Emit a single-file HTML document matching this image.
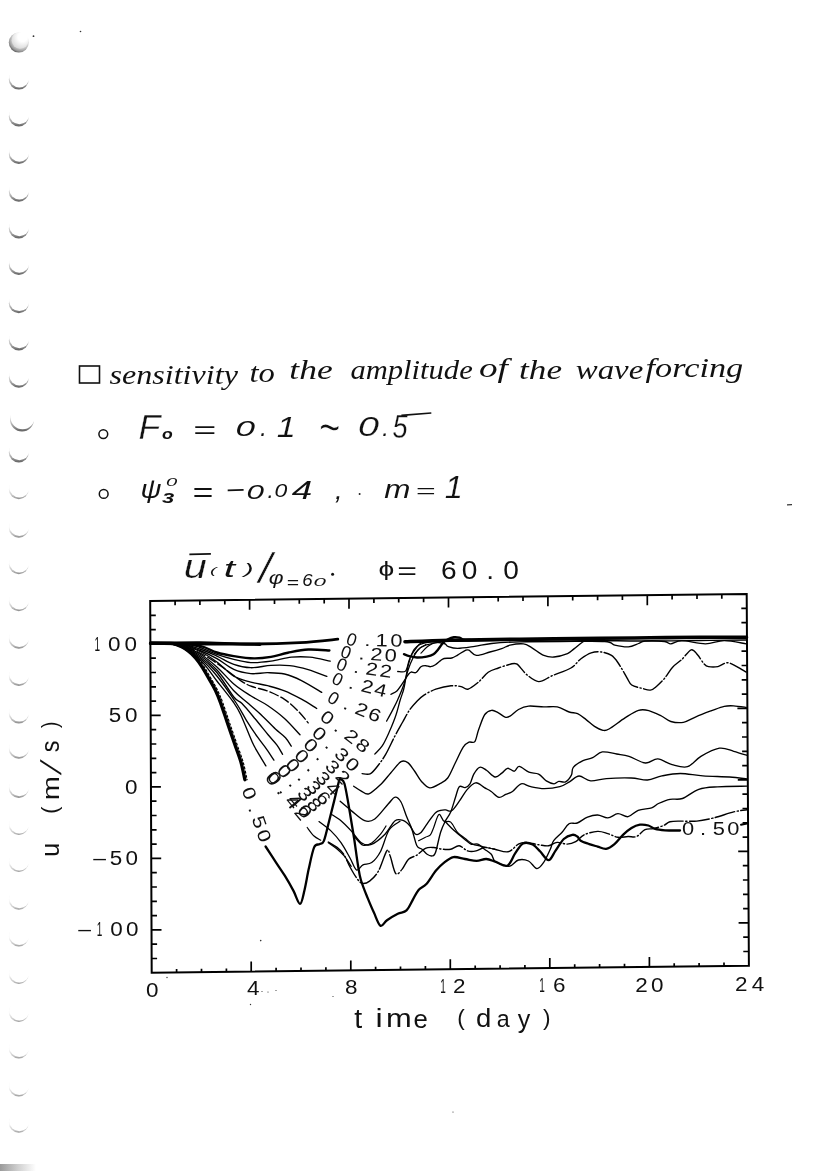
<!DOCTYPE html><html><head><meta charset="utf-8"><title>u(t) sensitivity to wave forcing amplitude</title><style>html,body{margin:0;padding:0;background:#fff;overflow:hidden}svg{display:block}</style></head><body><svg width="828" height="1171" viewBox="0 0 828 1171"><defs><linearGradient id="cres1" x1="0" y1="0" x2="0" y2="1"><stop offset="0.35" stop-color="#f4f4f4"/><stop offset="0.75" stop-color="#a4a4a4"/><stop offset="1" stop-color="#606060"/></linearGradient><linearGradient id="cres2" x1="0" y1="0" x2="0" y2="1"><stop offset="0.5" stop-color="#f8f8f8"/><stop offset="0.85" stop-color="#bbb"/><stop offset="1" stop-color="#8a8a8a"/></linearGradient><linearGradient id="cres3" x1="0" y1="0" x2="0" y2="1"><stop offset="0.55" stop-color="#fafafa"/><stop offset="0.88" stop-color="#c8c8c8"/><stop offset="1" stop-color="#9a9a9a"/></linearGradient><radialGradient id="ball" cx="0.62" cy="0.32" r="0.75"><stop offset="0.5" stop-color="#e8e8e8"/><stop offset="0.82" stop-color="#999"/><stop offset="1" stop-color="#444"/></radialGradient><radialGradient id="ballin" cx="0.65" cy="0.3" r="0.8"><stop offset="0.35" stop-color="#fff"/><stop offset="1" stop-color="#d4d4d4"/></radialGradient><linearGradient id="strip" x1="0" y1="0" x2="1" y2="0"><stop offset="0" stop-color="#9a9a9a"/><stop offset="0.5" stop-color="#d0d0d0"/><stop offset="1" stop-color="#fff"/></linearGradient></defs><rect width="828" height="1171" fill="#fff"/>
<g id="holes"><circle cx="18.8" cy="42.6" r="10.0" fill="url(#ball)"/><circle cx="20.1" cy="40.300000000000004" r="8.4" fill="url(#ballin)"/><circle cx="18.8" cy="79.6" r="10.0" fill="url(#cres1)"/><circle cx="19.400000000000002" cy="77.39999999999999" r="10.0" fill="#fff"/><circle cx="18.8" cy="116.5" r="10.0" fill="url(#cres1)"/><circle cx="19.400000000000002" cy="114.3" r="10.0" fill="#fff"/><circle cx="18.8" cy="154.0" r="10.0" fill="url(#cres1)"/><circle cx="19.400000000000002" cy="151.8" r="10.0" fill="#fff"/><circle cx="18.8" cy="191.7" r="10.0" fill="url(#cres1)"/><circle cx="19.400000000000002" cy="189.5" r="10.0" fill="#fff"/><circle cx="18.8" cy="228.5" r="10.0" fill="url(#cres1)"/><circle cx="19.400000000000002" cy="226.3" r="10.0" fill="#fff"/><circle cx="18.8" cy="265.0" r="10.0" fill="url(#cres1)"/><circle cx="19.400000000000002" cy="262.8" r="10.0" fill="#fff"/><circle cx="18.8" cy="303.3" r="10.0" fill="url(#cres1)"/><circle cx="19.400000000000002" cy="301.1" r="10.0" fill="#fff"/><circle cx="18.8" cy="340.4" r="10.0" fill="url(#cres1)"/><circle cx="19.400000000000002" cy="338.2" r="10.0" fill="#fff"/><circle cx="18.8" cy="377.7" r="10.0" fill="url(#cres1)"/><circle cx="19.400000000000002" cy="375.5" r="10.0" fill="#fff"/><circle cx="22.0" cy="419.4" r="12.0" fill="url(#cres1)"/><circle cx="22.6" cy="417.2" r="12.0" fill="#fff"/><circle cx="18.8" cy="452.5" r="10.0" fill="url(#cres1)"/><circle cx="19.400000000000002" cy="450.3" r="10.0" fill="#fff"/><circle cx="18.8" cy="489.3" r="10.0" fill="url(#cres2)"/><circle cx="19.400000000000002" cy="487.5" r="10.0" fill="#fff"/><circle cx="18.8" cy="527.8" r="10.0" fill="url(#cres2)"/><circle cx="19.400000000000002" cy="526.0" r="10.0" fill="#fff"/><circle cx="18.8" cy="564.2" r="10.0" fill="url(#cres2)"/><circle cx="19.400000000000002" cy="562.4000000000001" r="10.0" fill="#fff"/><circle cx="18.8" cy="601.3" r="10.0" fill="url(#cres2)"/><circle cx="19.400000000000002" cy="599.5" r="10.0" fill="#fff"/><circle cx="18.8" cy="638.7" r="10.0" fill="url(#cres2)"/><circle cx="19.400000000000002" cy="636.9000000000001" r="10.0" fill="#fff"/><circle cx="18.8" cy="676.0" r="10.0" fill="url(#cres2)"/><circle cx="19.400000000000002" cy="674.2" r="10.0" fill="#fff"/><circle cx="18.8" cy="713.4" r="10.0" fill="url(#cres2)"/><circle cx="19.400000000000002" cy="711.6" r="10.0" fill="#fff"/><circle cx="18.8" cy="748.8" r="10.0" fill="url(#cres2)"/><circle cx="19.400000000000002" cy="747.0" r="10.0" fill="#fff"/><circle cx="18.8" cy="788.0" r="10.0" fill="url(#cres2)"/><circle cx="19.400000000000002" cy="786.2" r="10.0" fill="#fff"/><circle cx="18.8" cy="825.0" r="10.0" fill="url(#cres3)"/><circle cx="19.400000000000002" cy="823.5" r="10.0" fill="#fff"/><circle cx="18.8" cy="862.0" r="10.0" fill="url(#cres3)"/><circle cx="19.400000000000002" cy="860.5" r="10.0" fill="#fff"/><circle cx="18.8" cy="899.7" r="10.0" fill="url(#cres3)"/><circle cx="19.400000000000002" cy="898.2" r="10.0" fill="#fff"/><circle cx="18.8" cy="936.5" r="10.0" fill="url(#cres3)"/><circle cx="19.400000000000002" cy="935.0" r="10.0" fill="#fff"/><circle cx="18.8" cy="974.0" r="10.0" fill="url(#cres3)"/><circle cx="19.400000000000002" cy="972.5" r="10.0" fill="#fff"/><circle cx="18.8" cy="1011.9" r="10.0" fill="url(#cres3)"/><circle cx="19.400000000000002" cy="1010.4" r="10.0" fill="#fff"/><circle cx="18.8" cy="1048.4" r="10.0" fill="url(#cres3)"/><circle cx="19.400000000000002" cy="1046.9" r="10.0" fill="#fff"/><circle cx="18.8" cy="1086.4" r="10.0" fill="url(#cres3)"/><circle cx="19.400000000000002" cy="1084.9" r="10.0" fill="#fff"/><circle cx="18.8" cy="1122.8" r="10.0" fill="url(#cres3)"/><circle cx="19.400000000000002" cy="1121.3" r="10.0" fill="#fff"/></g>
<rect x="0" y="1164" width="36" height="7" fill="url(#strip)"/>
<circle cx="260.7" cy="940.6" r="0.8" fill="#333"/>
<circle cx="262" cy="991.5" r="0.6" fill="#333"/>
<circle cx="268" cy="992" r="0.6" fill="#333"/>
<circle cx="276" cy="990.5" r="0.6" fill="#333"/>
<circle cx="250.5" cy="1004.5" r="0.7" fill="#333"/>
<circle cx="333" cy="996.5" r="0.6" fill="#333"/>
<circle cx="167" cy="977.5" r="0.7" fill="#333"/>
<circle cx="453" cy="1112" r="0.6" fill="#333"/>
<circle cx="80.5" cy="31.5" r="0.8" fill="#333"/>
<circle cx="33.5" cy="36.2" r="0.9" fill="#333"/>
<path d="M787,504.8 L792,504.6" stroke="#333" stroke-width="1.2"/>
<rect x="79.5" y="366" width="20" height="17" fill="none" stroke="#111" stroke-width="1.6"/>
<text x="90.29" y="384.00" font-size="26.50" font-family="Liberation Serif, serif" font-style="italic" fill="#111" transform="scale(1.2125,1)">sensitivity</text>
<text x="202.69" y="382.50" font-size="26.50" font-family="Liberation Serif, serif" font-style="italic" fill="#111" transform="scale(1.2311,1)">to</text>
<text x="215.97" y="379.00" font-size="26.50" font-family="Liberation Serif, serif" font-style="italic" fill="#111" transform="scale(1.3395,1)">the</text>
<text x="303.48" y="379.00" font-size="26.50" font-family="Liberation Serif, serif" font-style="italic" fill="#111" transform="scale(1.1546,1)">amplitude</text>
<text x="340.98" y="377.50" font-size="26.50" font-family="Liberation Serif, serif" font-style="italic" fill="#111" transform="scale(1.4047,1)">of</text>
<text x="391.35" y="378.90" font-size="26.50" font-family="Liberation Serif, serif" font-style="italic" fill="#111" transform="scale(1.3265,1)">the</text>
<text x="463.44" y="378.90" font-size="26.50" font-family="Liberation Serif, serif" font-style="italic" fill="#111" transform="scale(1.2422,1)">wave</text>
<text x="499.18" y="377.50" font-size="26.50" font-family="Liberation Serif, serif" font-style="italic" fill="#111" transform="scale(1.2932,1)">forcing</text>
<circle cx="103.3" cy="434.1" r="4.4" fill="none" stroke="#111" stroke-width="1.5"/>
<text x="135.38" y="439.20" font-size="34.93" font-family="Liberation Sans, sans-serif" font-style="italic" fill="#111" transform="scale(1.0225,1)" stroke="#fff" stroke-width="0.32">F</text>
<text x="127.34" y="439.06" font-size="13.82" font-family="Liberation Sans, sans-serif" font-style="italic" fill="#111" transform="scale(1.2719,1)" font-weight="bold">o</text>
<text x="114.39" y="438.06" font-size="23.38" font-family="Liberation Sans, sans-serif" font-style="italic" fill="#111" transform="scale(1.6841,1)">=</text>
<text x="143.86" y="436.49" font-size="21.41" font-family="Liberation Sans, sans-serif" font-style="italic" fill="#111" transform="scale(1.6372,1)">0</text>
<text x="285.16" y="436.50" font-size="25.71" font-family="Liberation Sans, sans-serif" font-style="italic" fill="#111" transform="scale(0.9130,1)">.</text>
<text x="238.45" y="436.70" font-size="29.42" font-family="Liberation Sans, sans-serif" font-style="italic" fill="#111" transform="scale(1.1610,1)" stroke="#fff" stroke-width="0.14">1</text>
<text x="519.90" y="446.70" font-size="60.00" font-family="Liberation Sans, sans-serif" font-style="italic" fill="#111" transform="scale(0.6128,1)" stroke="#fff" stroke-width="1.3">~</text>
<text x="266.78" y="435.92" font-size="28.03" font-family="Liberation Sans, sans-serif" font-style="italic" fill="#111" transform="scale(1.3424,1)" stroke="#fff" stroke-width="0.10">0</text>
<text x="403.27" y="436.20" font-size="24.76" font-family="Liberation Sans, sans-serif" font-style="italic" fill="#111" transform="scale(0.9482,1)">.</text>
<text x="486.33" y="437.66" font-size="33.57" font-family="Liberation Sans, sans-serif" font-style="italic" fill="#111" transform="scale(0.8073,1)" stroke="#fff" stroke-width="0.27">5</text>
<path d="M401.4,415.4 L431.3,413" stroke="#111" stroke-width="1.6" fill="none"/>
<circle cx="103.7" cy="493.9" r="4.4" fill="none" stroke="#111" stroke-width="1.5"/>
<text x="121.96" y="498.03" font-size="25.09" font-family="Liberation Sans, sans-serif" font-style="italic" fill="#111" transform="scale(1.1529,1)">ψ</text>
<text x="84.45" y="485.90" font-size="10.28" font-family="Liberation Sans, sans-serif" font-style="italic" fill="#111" transform="scale(1.9645,1)">0</text>
<text x="105.17" y="503.16" font-size="14.23" font-family="Liberation Sans, sans-serif" font-style="italic" fill="#111" transform="scale(1.5398,1)" font-weight="bold">3</text>
<text x="143.24" y="501.92" font-size="26.77" font-family="Liberation Sans, sans-serif" font-style="italic" fill="#111" transform="scale(1.3402,1)" stroke="#fff" stroke-width="0.06">=</text>
<path d="M227.7,490.3 L243.6,489.8" stroke="#111" stroke-width="1.7" fill="none"/>
<text x="159.94" y="498.80" font-size="20.42" font-family="Liberation Sans, sans-serif" font-style="italic" fill="#111" transform="scale(1.5417,1)">0</text>
<text x="292.97" y="498.40" font-size="24.76" font-family="Liberation Sans, sans-serif" font-style="italic" fill="#111" transform="scale(0.9130,1)">.</text>
<text x="218.78" y="497.32" font-size="18.31" font-family="Liberation Sans, sans-serif" font-style="italic" fill="#111" transform="scale(1.2545,1)">0</text>
<text x="199.46" y="499.00" font-size="25.22" font-family="Liberation Sans, sans-serif" font-style="italic" fill="#111" transform="scale(1.4630,1)">4</text>
<text x="309.83" y="498.64" font-size="25.11" font-family="Liberation Sans, sans-serif" font-style="italic" fill="#111" transform="scale(1.0811,1)">,</text>
<circle cx="359.6" cy="494" r="1" fill="#222"/>
<text x="305.64" y="498.00" font-size="25.00" font-family="Liberation Sans, sans-serif" font-style="italic" fill="#111" transform="scale(1.2571,1)">m</text>
<text x="219.24" y="497.14" font-size="17.85" font-family="Liberation Sans, sans-serif" font-style="italic" fill="#111" transform="scale(1.8948,1)">=</text>
<text x="419.40" y="498.00" font-size="30.72" font-family="Liberation Sans, sans-serif" font-style="italic" fill="#111" transform="scale(1.0605,1)" stroke="#fff" stroke-width="0.18">1</text>
<path d="M189.4,554.4 L210.9,553.9" stroke="#111" stroke-width="1.7" fill="none"/>
<text x="143.70" y="577.58" font-size="32.41" font-family="Liberation Sans, sans-serif" font-style="italic" fill="#111" transform="scale(1.2779,1)" stroke="#fff" stroke-width="0.24">u</text>
<text x="94.65" y="573.96" font-size="8.77" font-family="Liberation Sans, sans-serif" font-style="italic" fill="#111" transform="scale(2.2189,1)">(</text>
<text x="136.42" y="576.55" font-size="24.85" font-family="Liberation Sans, sans-serif" font-style="italic" fill="#111" transform="scale(1.6396,1)">t</text>
<text x="124.86" y="573.81" font-size="14.22" font-family="Liberation Sans, sans-serif" font-style="italic" fill="#111" transform="scale(1.9570,1)">)</text>
<text x="241.03" y="582.57" font-size="43.27" font-family="Liberation Sans, sans-serif" font-style="italic" fill="#111" transform="scale(1.0731,1)" stroke="#fff" stroke-width="0.58">/</text>
<text x="209.59" y="584.38" font-size="17.73" font-family="Liberation Sans, sans-serif" font-style="italic" fill="#111" transform="scale(1.2821,1)">φ</text>
<text x="213.87" y="587.59" font-size="15.69" font-family="Liberation Sans, sans-serif" font-style="italic" fill="#111" transform="scale(1.3402,1)">=</text>
<text x="258.65" y="585.94" font-size="15.92" font-family="Liberation Sans, sans-serif" font-style="italic" fill="#111" transform="scale(1.1687,1)">6</text>
<text x="161.86" y="585.98" font-size="11.55" font-family="Liberation Sans, sans-serif" font-style="italic" fill="#111" transform="scale(1.9375,1)">0</text>
<circle cx="332.6" cy="574.2" r="1.5" fill="#111"/>
<text x="264.89" y="575.87" font-size="19.68" font-family="Liberation Sans, sans-serif" font-style="normal" fill="#111" transform="scale(1.4292,1)">ϕ</text>
<text x="278.38" y="579.01" font-size="23.69" font-family="Liberation Sans, sans-serif" font-style="normal" fill="#111" transform="scale(1.4272,1)">=</text>
<text x="408.42" y="579.00" font-size="26" font-family="Liberation Sans, sans-serif" fill="#111" transform="scale(1.08,1)">6</text>
<text x="427.48" y="579.00" font-size="26" font-family="Liberation Sans, sans-serif" fill="#111" transform="scale(1.08,1)">0</text>
<text x="450.25" y="579.00" font-size="26" font-family="Liberation Sans, sans-serif" fill="#111" transform="scale(1.08,1)">.</text>
<text x="465.90" y="579.00" font-size="26" font-family="Liberation Sans, sans-serif" fill="#111" transform="scale(1.08,1)">0</text>
<text x="196.77" y="650.80" font-size="20.8" font-family="Liberation Sans, sans-serif" fill="#111" transform="scale(0.48,1)">1</text>
<text x="100.09" y="650.80" font-size="20.8" font-family="Liberation Sans, sans-serif" fill="#111" transform="scale(1.08,1)">0</text>
<text x="115.28" y="650.80" font-size="20.8" font-family="Liberation Sans, sans-serif" fill="#111" transform="scale(1.08,1)">0</text>
<text x="100.65" y="722.10" font-size="20.8" font-family="Liberation Sans, sans-serif" fill="#111" transform="scale(1.08,1)">5</text>
<text x="115.65" y="722.10" font-size="20.8" font-family="Liberation Sans, sans-serif" fill="#111" transform="scale(1.08,1)">0</text>
<text x="115.65" y="793.70" font-size="20.8" font-family="Liberation Sans, sans-serif" fill="#111" transform="scale(1.08,1)">0</text>
<text x="84.73" y="865.30" font-size="20.8" font-family="Liberation Sans, sans-serif" fill="#111" transform="scale(1.1,1)">–</text>
<text x="101.58" y="865.30" font-size="20.8" font-family="Liberation Sans, sans-serif" fill="#111" transform="scale(1.08,1)">5</text>
<text x="116.30" y="865.30" font-size="20.8" font-family="Liberation Sans, sans-serif" fill="#111" transform="scale(1.08,1)">0</text>
<text x="71.09" y="936.10" font-size="20.8" font-family="Liberation Sans, sans-serif" fill="#111" transform="scale(1.1,1)">–</text>
<text x="201.36" y="936.10" font-size="20.8" font-family="Liberation Sans, sans-serif" fill="#111" transform="scale(0.48,1)">1</text>
<text x="102.04" y="936.10" font-size="20.8" font-family="Liberation Sans, sans-serif" fill="#111" transform="scale(1.08,1)">0</text>
<text x="116.76" y="936.10" font-size="20.8" font-family="Liberation Sans, sans-serif" fill="#111" transform="scale(1.08,1)">0</text>
<text x="135.09" y="997.50" font-size="20.8" font-family="Liberation Sans, sans-serif" fill="#111" transform="scale(1.08,1)">0</text>
<text x="228.66" y="995.50" font-size="20.8" font-family="Liberation Sans, sans-serif" fill="#111" transform="scale(1.08,1)">4</text>
<text x="319.43" y="994.20" font-size="20.8" font-family="Liberation Sans, sans-serif" fill="#111" transform="scale(1.08,1)">8</text>
<text x="916.98" y="993.00" font-size="20.8" font-family="Liberation Sans, sans-serif" fill="#111" transform="scale(0.48,1)">1</text>
<text x="419.52" y="993.00" font-size="20.8" font-family="Liberation Sans, sans-serif" fill="#111" transform="scale(1.08,1)">2</text>
<text x="1123.44" y="992.20" font-size="20.8" font-family="Liberation Sans, sans-serif" fill="#111" transform="scale(0.48,1)">1</text>
<text x="512.11" y="992.20" font-size="20.8" font-family="Liberation Sans, sans-serif" fill="#111" transform="scale(1.08,1)">6</text>
<text x="588.13" y="991.60" font-size="20.8" font-family="Liberation Sans, sans-serif" fill="#111" transform="scale(1.08,1)">2</text>
<text x="602.87" y="991.60" font-size="20.8" font-family="Liberation Sans, sans-serif" fill="#111" transform="scale(1.08,1)">0</text>
<text x="680.63" y="990.60" font-size="20.8" font-family="Liberation Sans, sans-serif" fill="#111" transform="scale(1.08,1)">2</text>
<text x="696.07" y="990.60" font-size="20.8" font-family="Liberation Sans, sans-serif" fill="#111" transform="scale(1.08,1)">4</text>
<text x="346.98" y="1027.92" font-size="28.03" font-family="Liberation Sans, sans-serif" font-style="normal" fill="#111" transform="scale(1.0213,1)">t</text>
<text x="305.32" y="1027.50" font-size="26.21" font-family="Liberation Sans, sans-serif" font-style="normal" fill="#111" transform="scale(1.2295,1)">i</text>
<text x="312.07" y="1027.50" font-size="25.00" font-family="Liberation Sans, sans-serif" font-style="normal" fill="#111" transform="scale(1.2369,1)">m</text>
<text x="408.91" y="1027.65" font-size="25.45" font-family="Liberation Sans, sans-serif" font-style="normal" fill="#111" transform="scale(1.0114,1)">e</text>
<text x="460.05" y="1025.12" font-size="22.78" font-family="Liberation Sans, sans-serif" font-style="normal" fill="#111" transform="scale(0.9939,1)">(</text>
<text x="432.53" y="1026.75" font-size="25.03" font-family="Liberation Sans, sans-serif" font-style="normal" fill="#111" transform="scale(1.1007,1)">d</text>
<text x="496.27" y="1026.77" font-size="23.27" font-family="Liberation Sans, sans-serif" font-style="normal" fill="#111" transform="scale(1.0012,1)">a</text>
<text x="525.21" y="1027.86" font-size="25.41" font-family="Liberation Sans, sans-serif" font-style="normal" fill="#111" transform="scale(0.9860,1)">y</text>
<text x="546.23" y="1025.12" font-size="22.78" font-family="Liberation Sans, sans-serif" font-style="normal" fill="#111" transform="scale(0.9939,1)">)</text>
<g transform="translate(60.3,0) rotate(-90)"><text x="-835.44" y="-1.15" font-size="25.00" font-family="Liberation Sans, sans-serif" fill="#111" transform="scale(1.0259,1)">u</text><text x="-857.74" y="-3.76" font-size="22.67" font-family="Liberation Sans, sans-serif" fill="#111" transform="scale(0.9486,1)">(</text><text x="-652.30" y="-1.60" font-size="23.70" font-family="Liberation Sans, sans-serif" fill="#111" transform="scale(1.2267,1)">m</text><text x="-775.30" y="0.71" font-size="28.84" font-family="Liberation Sans, sans-serif" fill="#111" transform="translate(0,0.71) skewX(-20.73) translate(0,-0.71)">/</text><text x="-829.94" y="-1.16" font-size="25.87" font-family="Liberation Sans, sans-serif" fill="#111" transform="scale(0.9063,1)">s</text><text x="-857.57" y="-3.76" font-size="22.67" font-family="Liberation Sans, sans-serif" fill="#111" transform="scale(0.8488,1)">)</text></g>
<path d="M150.2,601.0 L746.7,594.0 L748.9,965.8 L151.7,972.8 Z" fill="none" stroke="#000" stroke-width="2"/>
<path d="M175.1,600.7 l0,4.5 M176.6,972.5 l0,-3.5 M199.9,600.4 l0,4.5 M201.5,972.2 l0,-3.5 M224.8,600.1 l0,4.5 M226.4,971.9 l0,-3.5 M249.6,599.8 l0,10 M251.2,971.6 l0,-10 M274.5,599.5 l0,4.5 M276.1,971.3 l0,-3.5 M299.3,599.2 l0,4.5 M301.0,971.0 l0,-3.5 M324.2,599.0 l0,4.5 M325.9,970.8 l0,-3.5 M349.0,598.7 l0,10 M350.8,970.5 l0,-10 M373.9,598.4 l0,4.5 M375.6,970.2 l0,-3.5 M398.7,598.1 l0,4.5 M400.5,969.9 l0,-3.5 M423.6,597.8 l0,4.5 M425.4,969.6 l0,-3.5 M448.5,597.5 l0,10 M450.3,969.3 l0,-10 M473.3,597.2 l0,4.5 M475.2,969.0 l0,-3.5 M498.2,596.9 l0,4.5 M500.1,968.7 l0,-3.5 M523.0,596.6 l0,4.5 M524.9,968.4 l0,-3.5 M547.9,596.3 l0,10 M549.8,968.1 l0,-10 M572.7,596.0 l0,4.5 M574.7,967.8 l0,-3.5 M597.6,595.8 l0,4.5 M599.6,967.5 l0,-3.5 M622.4,595.5 l0,4.5 M624.5,967.3 l0,-3.5 M647.3,595.2 l0,10 M649.4,967.0 l0,-10 M672.1,594.9 l0,4.5 M674.2,966.7 l0,-3.5 M697.0,594.6 l0,4.5 M699.1,966.4 l0,-3.5 M721.8,594.3 l0,4.5 M724.0,966.1 l0,-3.5 M151.6,958.5 l5.5,0 M748.8,951.5 l-5.5,0 M151.6,944.2 l5.5,0 M748.7,937.2 l-5.5,0 M151.5,929.9 l10,0 M748.6,922.9 l-10,0 M151.5,915.6 l5.5,0 M748.6,908.6 l-5.5,0 M151.4,901.3 l5.5,0 M748.5,894.3 l-5.5,0 M151.4,887.0 l5.5,0 M748.4,880.0 l-5.5,0 M151.3,872.7 l5.5,0 M748.3,865.7 l-5.5,0 M151.2,858.4 l10,0 M748.2,851.4 l-10,0 M151.2,844.1 l5.5,0 M748.1,837.1 l-5.5,0 M151.1,829.8 l5.5,0 M748.1,822.8 l-5.5,0 M151.1,815.5 l5.5,0 M748.0,808.5 l-5.5,0 M151.0,801.2 l5.5,0 M747.9,794.2 l-5.5,0 M150.9,786.9 l10,0 M747.8,779.9 l-10,0 M150.9,772.6 l5.5,0 M747.7,765.6 l-5.5,0 M150.8,758.3 l5.5,0 M747.6,751.3 l-5.5,0 M150.8,744.0 l5.5,0 M747.5,737.0 l-5.5,0 M150.7,729.7 l5.5,0 M747.5,722.7 l-5.5,0 M150.7,715.4 l10,0 M747.4,708.4 l-10,0 M150.6,701.1 l5.5,0 M747.3,694.1 l-5.5,0 M150.5,686.8 l5.5,0 M747.2,679.8 l-5.5,0 M150.5,672.5 l5.5,0 M747.1,665.5 l-5.5,0 M150.4,658.2 l5.5,0 M747.0,651.2 l-5.5,0 M150.4,643.9 l10,0 M747.0,636.9 l-10,0 M150.3,629.6 l5.5,0 M746.9,622.6 l-5.5,0 M150.3,615.3 l5.5,0 M746.8,608.3 l-5.5,0" stroke="#000" stroke-width="1.7" fill="none"/>
<path d="M150.5,643.2 C158.8,643.1 183.3,642.5 200.0,642.6 C216.7,642.7 234.0,644.0 250.7,644.0 C267.4,644.0 285.5,643.4 300.0,642.6 C314.5,641.8 331.5,639.8 337.8,639.2" fill="none" stroke="#000" stroke-width="2.8" stroke-linecap="round" stroke-linejoin="round"/>
<path d="M150.5,643.2 C154.6,643.2 166.8,643.0 175.0,643.4 C183.2,643.8 193.0,644.4 200.0,645.9 C207.0,647.4 211.3,650.8 216.9,652.5 C222.5,654.2 227.6,655.1 233.8,656.1 C240.0,657.1 247.9,658.3 254.1,658.4 C260.3,658.5 265.4,657.8 271.0,656.9 C276.6,656.0 281.7,653.9 287.9,652.7 C294.1,651.5 301.3,649.9 308.2,649.5 C315.1,649.1 325.9,650.3 329.4,650.5" fill="none" stroke="#000" stroke-width="2.4" stroke-linecap="round" stroke-linejoin="round"/>
<path d="M150.5,643.2 C156.2,643.4 176.8,643.5 185.0,644.2 C193.2,644.9 194.7,645.8 200.0,647.5 C205.3,649.2 211.3,652.4 216.9,654.4 C222.5,656.4 228.2,658.0 233.8,659.4 C239.4,660.8 244.5,662.3 250.7,662.6 C256.9,662.9 264.2,662.0 271.0,661.1 C277.8,660.2 284.8,657.9 291.3,657.2 C297.8,656.6 303.4,656.6 309.9,657.2 C316.4,657.9 326.8,660.5 330.2,661.1" fill="none" stroke="#000" stroke-width="1.35" stroke-linecap="round" stroke-linejoin="round"/>
<path d="M150.5,643.2 C155.9,643.4 174.8,643.5 183.0,644.5 C191.2,645.5 194.3,647.1 200.0,649.0 C205.7,650.9 211.3,653.6 216.9,656.1 C222.5,658.6 228.2,662.4 233.8,664.3 C239.4,666.2 244.5,667.5 250.7,667.7 C256.9,667.9 264.5,665.8 271.0,665.4 C277.5,665.0 283.4,664.9 289.6,665.6 C295.8,666.3 302.0,667.8 308.2,669.6 C314.4,671.4 323.7,675.3 326.8,676.4" fill="none" stroke="#000" stroke-width="1.35" stroke-linecap="round" stroke-linejoin="round"/>
<path d="M150.5,643.2 C155.8,643.5 173.8,643.5 182.0,644.7 C190.2,645.9 194.2,648.2 200.0,650.5 C205.8,652.8 211.3,655.5 216.9,658.6 C222.5,661.8 228.2,666.9 233.8,669.4 C239.4,671.9 245.1,673.0 250.7,673.6 C256.3,674.2 262.0,672.6 267.6,672.7 C273.2,672.8 278.9,672.7 284.5,674.0 C290.1,675.3 295.3,677.5 301.5,680.6 C307.7,683.7 318.3,690.4 321.7,692.4" fill="none" stroke="#000" stroke-width="1.35" stroke-linecap="round" stroke-linejoin="round"/>
<path d="M150.5,643.2 C155.6,643.5 172.8,643.4 181.0,644.8 C189.2,646.2 194.0,648.6 200.0,651.5 C206.0,654.4 211.3,657.9 216.9,662.0 C222.5,666.1 228.2,672.9 233.8,676.2 C239.4,679.6 245.1,680.5 250.7,682.1 C256.3,683.7 262.0,684.2 267.6,685.7 C273.2,687.2 278.9,688.6 284.5,690.9 C290.1,693.1 296.1,696.3 301.5,699.2 C306.9,702.1 314.2,707.0 316.7,708.5" fill="none" stroke="#000" stroke-width="1.35" stroke-linecap="round" stroke-linejoin="round"/>
<path d="M150.5,643.2 C155.4,643.5 171.8,643.4 180.0,645.0 C188.2,646.6 193.3,649.6 200.0,653.0 C206.7,656.4 213.5,661.0 220.3,665.6 C227.1,670.2 235.3,677.1 240.6,680.6 C245.9,684.1 247.5,684.8 252.0,686.5 C256.5,688.2 262.2,688.9 267.6,691.0 C273.0,693.1 279.4,696.1 284.5,699.4 C289.6,702.7 294.2,707.1 298.1,711.0 C302.1,714.9 306.5,720.9 308.2,722.9" fill="none" stroke="#000" stroke-width="1.35" stroke-linecap="round" stroke-linejoin="round" stroke-dasharray="9,3"/>
<path d="M150.5,643.2 C155.2,643.5 170.8,643.2 179.0,645.0 C187.2,646.8 193.7,650.3 200.0,654.0 C206.3,657.7 211.3,662.0 216.9,667.0 C222.5,672.0 228.2,679.2 233.8,684.0 C239.4,688.8 245.1,692.2 250.7,695.8 C256.3,699.4 262.0,701.7 267.6,705.5 C273.2,709.3 279.1,713.6 284.5,718.5 C289.9,723.4 297.4,732.1 300.0,734.8" fill="none" stroke="#000" stroke-width="1.35" stroke-linecap="round" stroke-linejoin="round"/>
<path d="M150.5,643.2 C155.1,643.5 169.8,643.0 178.0,645.0 C186.2,647.0 193.5,651.3 200.0,655.5 C206.5,659.7 211.3,664.1 216.9,670.0 C222.5,675.9 228.7,685.2 233.8,690.7 C239.0,696.2 243.1,698.8 247.8,703.0 C252.6,707.2 257.7,711.6 262.3,715.9 C266.9,720.2 271.5,725.4 275.4,729.0 C279.3,732.6 282.9,734.9 285.5,737.7 C288.1,740.6 290.3,744.7 291.3,746.1" fill="none" stroke="#000" stroke-width="1.35" stroke-linecap="round" stroke-linejoin="round"/>
<path d="M150.5,643.2 C154.9,643.5 168.8,642.7 177.0,645.0 C185.2,647.3 193.3,652.4 200.0,657.0 C206.7,661.6 211.3,665.8 216.9,672.5 C222.5,679.2 229.6,691.8 233.8,697.0 C238.0,702.2 238.4,699.9 242.0,703.5 C245.6,707.1 250.8,713.6 255.1,718.8 C259.4,724.0 264.5,730.4 268.1,734.8 C271.7,739.1 274.4,741.6 276.8,744.9 C279.2,748.1 281.6,752.7 282.6,754.3" fill="none" stroke="#000" stroke-width="1.35" stroke-linecap="round" stroke-linejoin="round"/>
<path d="M150.5,643.2 C154.8,643.5 167.8,642.5 176.0,645.0 C184.2,647.5 193.2,653.3 200.0,658.5 C206.8,663.7 210.9,668.6 216.9,676.0 C222.9,683.4 231.3,695.6 236.2,703.0 C241.1,710.4 242.8,714.5 246.4,720.3 C250.0,726.1 254.6,732.9 258.0,737.7 C261.4,742.5 264.1,745.6 266.7,749.3 C269.3,753.0 272.7,758.3 273.9,760.1" fill="none" stroke="#000" stroke-width="1.35" stroke-linecap="round" stroke-linejoin="round"/>
<path d="M150.5,643.2 C154.6,643.5 166.8,642.2 175.0,645.0 C183.2,647.8 193.0,654.0 200.0,660.0 C207.0,666.0 211.3,674.0 216.9,681.0 C222.5,688.0 229.4,696.4 233.3,702.0 C237.2,707.6 237.4,707.8 240.6,714.5 C243.8,721.2 249.1,735.2 252.2,742.0 C255.3,748.8 257.1,751.1 259.4,755.1 C261.7,759.1 264.8,764.1 265.9,765.9" fill="none" stroke="#000" stroke-width="1.35" stroke-linecap="round" stroke-linejoin="round"/>
<path d="M150.5,643.2 C154.9,643.3 170.8,642.8 177.0,644.0 C183.2,645.2 184.4,648.2 187.5,650.5 C190.6,652.8 193.0,655.1 195.5,658.0 C198.0,660.9 200.2,664.0 202.5,667.6 C204.8,671.2 207.3,675.9 209.5,679.7 C211.7,683.5 213.7,686.8 215.5,690.6 C217.3,694.4 218.6,697.4 220.5,702.6 C222.4,707.8 224.7,714.9 227.0,721.7 C229.3,728.5 232.2,736.7 234.5,743.5 C236.8,750.3 239.3,756.3 241.0,762.3 C242.7,768.3 244.2,776.8 244.9,779.7" fill="none" stroke="#000" stroke-width="3.3" stroke-linecap="round" stroke-linejoin="round"/>
<path d="M189.7,650.5 C191.0,651.8 195.2,655.1 197.7,658.0 C200.2,660.9 202.4,664.0 204.7,667.6 C207.0,671.2 209.5,675.9 211.7,679.7 C213.9,683.5 215.9,686.8 217.7,690.6 C219.5,694.4 220.8,697.4 222.7,702.6 C224.6,707.8 226.9,714.9 229.2,721.7 C231.5,728.5 234.4,736.7 236.7,743.5 C239.0,750.3 241.5,756.3 243.2,762.3 C244.9,768.3 246.4,776.8 247.1,779.7" fill="none" stroke="#000" stroke-width="1.2" stroke-linecap="round" stroke-linejoin="round" stroke-dasharray="2,2.2"/>
<path d="M150.5,643.2 C156.2,643.3 171.8,643.5 185.0,643.6 C198.2,643.7 217.5,643.9 230.0,644.0 C242.5,644.1 255.0,644.2 260.0,644.3" fill="none" stroke="#000" stroke-width="3.2" stroke-linecap="round" stroke-linejoin="round"/>
<path d="M405.0,641.8 C412.5,641.5 430.8,640.6 450.0,640.2 C469.2,639.8 495.0,639.5 520.0,639.2 C545.0,638.9 578.3,638.5 600.0,638.3 C621.7,638.1 633.3,638.0 650.0,637.8 C666.7,637.6 683.9,637.4 700.0,637.3 C716.1,637.2 738.8,637.2 746.5,637.2" fill="none" stroke="#000" stroke-width="3.6" stroke-linecap="round" stroke-linejoin="round"/>
<path d="M440.0,641.5 C450.0,641.3 480.0,640.6 500.0,640.5 C520.0,640.4 543.3,641.0 560.0,641.0 C576.7,641.0 586.7,640.5 600.0,640.5 C613.3,640.5 623.3,641.0 640.0,641.0 C656.7,641.0 682.3,640.7 700.0,640.5 C717.7,640.3 738.3,640.1 746.0,640.0" fill="none" stroke="#000" stroke-width="1.3" stroke-linecap="round" stroke-linejoin="round"/>
<path d="M404.0,654.2 C404.9,654.5 407.1,655.6 409.3,656.1 C411.5,656.6 414.1,657.4 417.0,657.5 C419.9,657.6 423.9,657.1 426.7,656.6 C429.4,656.1 431.6,655.4 433.5,654.2 C435.4,653.0 436.7,651.2 438.3,649.3 C439.9,647.4 441.5,644.3 443.1,642.6 C444.7,640.9 446.2,640.1 448.0,639.2 C449.8,638.3 451.9,637.5 453.8,637.2 C455.7,637.0 458.0,637.3 459.6,637.7 C461.2,638.1 461.7,639.3 463.4,639.7 C465.1,640.1 468.9,640.0 470.0,640.0" fill="none" stroke="#000" stroke-width="2.4" stroke-linecap="round" stroke-linejoin="round"/>
<path d="M411.3,655.1 C412.6,653.3 416.8,646.8 419.0,644.5 C421.2,642.2 423.8,642.1 424.8,641.6" fill="none" stroke="#000" stroke-width="1.1" stroke-linecap="round" stroke-linejoin="round"/>
<path d="M414.2,654.2 C415.2,653.2 418.0,649.6 420.0,648.0 C422.0,646.4 425.0,645.1 426.0,644.5" fill="none" stroke="#000" stroke-width="1.1" stroke-linecap="round" stroke-linejoin="round"/>
<path d="M420.9,653.2 C421.9,652.2 425.1,648.6 427.0,647.0 C428.9,645.4 431.6,644.1 432.5,643.5" fill="none" stroke="#000" stroke-width="1.1" stroke-linecap="round" stroke-linejoin="round"/>
<path d="M397.7,671.5 C399.0,671.4 403.6,673.0 405.5,671.1 C407.4,669.2 407.9,663.6 409.3,660.0 C410.8,656.4 412.4,651.9 414.2,649.3 C416.0,646.7 417.4,645.7 420.0,644.5 C422.6,643.3 426.0,642.2 430.0,642.0 C434.0,641.8 441.1,642.8 444.1,643.5 C447.1,644.2 445.8,645.6 448.0,646.4 C450.2,647.2 453.2,648.4 457.6,648.4 C462.1,648.4 469.0,647.2 474.7,646.4 C480.4,645.6 484.1,644.3 491.6,643.5 C499.2,642.7 508.6,642.1 520.0,641.8 C531.4,641.5 545.9,641.5 560.0,641.5 C574.1,641.5 595.6,640.9 604.7,641.5 C613.8,642.1 610.8,644.3 614.8,645.2 C618.8,646.1 624.4,647.2 628.4,646.9 C632.4,646.6 635.7,644.5 638.5,643.5 C641.3,642.5 640.7,641.3 645.0,641.0 C649.3,640.7 660.2,641.0 664.5,641.5 C668.8,642.0 667.9,643.9 670.8,643.8 C673.7,643.7 676.0,640.7 681.8,640.7 C687.6,640.7 698.3,643.8 705.4,643.8 C712.5,643.8 717.4,640.7 724.2,640.7 C731.0,640.7 742.5,643.3 746.2,643.8" fill="none" stroke="#000" stroke-width="1.3" stroke-linecap="round" stroke-linejoin="round"/>
<path d="M391.0,694.3 C392.0,693.7 395.1,692.6 396.9,690.9 C398.7,689.2 400.0,686.9 402.0,684.1 C404.0,681.3 407.1,676.0 408.7,674.0 C410.2,672.0 410.1,672.2 411.3,672.0 C412.5,671.8 414.5,673.4 416.1,672.5 C417.7,671.6 419.3,667.8 420.9,666.7 C422.5,665.6 424.1,665.7 425.7,665.7 C427.3,665.7 429.0,666.9 430.6,666.7 C432.2,666.6 433.8,665.8 435.4,664.8 C437.0,663.8 438.8,661.9 440.2,660.9 C441.6,659.9 442.2,659.0 444.1,658.5 C446.0,658.0 449.6,658.6 451.8,658.0 C454.1,657.4 455.3,656.4 457.6,655.1 C459.9,653.8 463.5,651.1 465.4,650.3 C467.3,649.5 467.2,649.4 469.0,650.2 C470.8,651.1 472.9,655.1 476.4,655.4 C479.9,655.7 485.7,653.1 489.9,652.0 C494.1,650.9 498.3,649.7 501.7,648.6 C505.1,647.5 506.4,646.0 510.0,645.2 C513.6,644.4 519.8,643.5 523.5,643.9 C527.2,644.3 528.6,645.9 532.0,647.8 C535.4,649.7 540.1,653.9 543.8,655.4 C547.5,656.9 550.0,657.3 554.0,657.0 C558.0,656.7 564.1,655.1 567.5,653.7 C570.9,652.3 571.2,650.9 574.3,648.6 C577.4,646.3 581.8,641.7 586.1,640.1 C590.4,638.5 597.7,639.0 600.0,638.8" fill="none" stroke="#000" stroke-width="1.35" stroke-linecap="round" stroke-linejoin="round"/>
<path d="M386.6,721.1 C387.6,719.3 390.8,713.6 392.6,710.1 C394.4,706.6 395.8,704.1 397.6,700.0 C399.4,695.9 401.7,690.7 403.5,685.5 C405.3,680.3 406.9,673.4 408.4,669.0 C409.9,664.6 410.9,662.2 412.5,659.0 C414.1,655.8 415.8,652.3 418.0,650.0 C420.2,647.7 422.3,646.3 426.0,645.0 C429.7,643.7 437.7,642.5 440.0,642.0" fill="none" stroke="#000" stroke-width="1.3" stroke-linecap="round" stroke-linejoin="round"/>
<path d="M374.8,754.1 C376.1,752.7 380.0,749.4 382.4,745.7 C384.8,742.0 386.9,737.2 389.2,732.1 C391.4,727.0 394.1,720.6 395.9,715.2 C397.7,709.9 398.9,704.2 400.2,700.0 C401.5,695.8 402.6,693.3 403.5,690.0 C404.4,686.7 404.8,684.0 405.5,680.0 C406.2,676.0 407.2,669.5 408.0,666.0 C408.8,662.5 409.7,660.2 410.0,659.0" fill="none" stroke="#000" stroke-width="1.3" stroke-linecap="round" stroke-linejoin="round"/>
<path d="M362.1,773.6 C363.5,773.6 367.8,775.2 370.6,773.6 C373.4,772.0 376.5,767.5 379.0,764.3 C381.5,761.0 383.2,758.6 385.8,754.1 C388.4,749.6 391.5,742.6 394.3,737.2 C397.1,731.9 400.2,726.5 402.7,722.0 C405.2,717.5 407.1,713.6 409.5,710.1 C411.9,706.6 414.8,703.5 417.2,701.0 C419.6,698.5 420.9,697.1 424.0,695.1 C427.1,693.1 431.3,690.8 435.8,689.2 C440.3,687.7 446.8,686.2 451.0,685.8 C455.2,685.4 458.4,686.0 461.2,686.6 C464.0,687.2 465.1,689.9 467.9,689.2 C470.7,688.5 474.7,685.2 478.1,682.4 C481.5,679.6 484.8,674.7 488.2,672.3 C491.6,669.9 494.4,669.4 498.4,668.0 C502.3,666.6 508.8,664.5 511.9,663.8 C515.0,663.1 515.4,663.4 516.8,664.0 C518.2,664.6 518.4,665.4 520.1,667.2 C521.8,669.0 523.8,672.4 526.9,674.8 C530.0,677.2 534.5,681.5 538.7,681.6 C542.9,681.8 546.9,678.0 552.3,675.7 C557.7,673.4 566.1,670.8 570.9,668.0 C575.7,665.2 577.6,661.2 581.0,658.7 C584.4,656.2 587.8,653.9 591.2,652.8 C594.6,651.7 597.9,651.6 601.3,652.0 C604.7,652.4 608.7,653.6 611.5,655.4 C614.3,657.2 615.7,659.4 618.2,663.0 C620.7,666.6 624.5,673.6 626.7,677.3 C629.0,681.0 629.2,683.2 631.7,685.0 C634.2,686.8 638.8,687.4 641.9,688.3 C645.0,689.1 647.9,690.5 650.4,690.1 C652.9,689.8 654.4,688.2 656.7,686.2 C659.1,684.2 661.9,681.5 664.5,678.4 C667.1,675.3 669.5,670.5 672.4,667.4 C675.3,664.2 678.7,662.4 681.8,659.5 C684.9,656.6 688.6,650.6 691.2,649.8 C693.8,649.0 695.4,652.5 697.5,654.8 C699.6,657.1 702.0,661.5 703.8,663.5 C705.6,665.5 706.1,666.1 708.5,666.6 C710.9,667.1 714.8,667.2 717.9,666.6 C721.0,666.0 724.1,662.7 727.3,662.7 C730.4,662.7 733.6,665.0 736.8,666.6 C739.9,668.2 744.6,671.2 746.2,672.1" fill="none" stroke="#000" stroke-width="1.4" stroke-linecap="round" stroke-linejoin="round" stroke-dasharray="22,2.5,1.2,2.5"/>
<path d="M353.7,786.2 C355.0,787.0 358.8,789.8 361.3,791.1 C363.8,792.4 365.7,794.9 368.9,793.8 C372.1,792.7 377.0,788.0 380.7,784.5 C384.4,781.0 387.5,776.5 390.9,772.7 C394.3,768.9 398.2,763.4 401.0,761.7 C403.8,760.0 405.6,761.1 407.8,762.6 C410.1,764.1 412.2,767.9 414.5,771.0 C416.8,774.1 418.8,778.4 421.3,781.2 C423.9,784.0 426.7,787.5 429.8,787.9 C432.9,788.3 436.9,785.4 439.9,783.7 C442.9,782.1 445.1,781.5 447.7,778.0 C450.3,774.5 452.9,767.6 455.5,762.5 C458.1,757.4 460.9,750.5 463.2,747.1 C465.4,743.7 467.1,743.1 469.0,742.2 C470.9,741.3 473.2,743.7 474.8,741.6 C476.4,739.5 476.9,734.2 478.6,729.7 C480.3,725.2 482.6,717.7 484.8,714.5 C487.0,711.3 489.3,710.6 491.6,710.3 C493.9,710.0 496.1,711.8 498.4,712.9 C500.6,714.0 503.2,716.5 505.1,717.1 C507.0,717.7 507.8,717.5 510.0,716.2 C512.2,714.9 515.4,711.2 518.5,709.5 C521.6,707.8 524.4,706.5 528.6,706.1 C532.8,705.7 539.0,706.8 543.8,706.9 C548.6,707.0 553.1,706.0 557.3,706.9 C561.5,707.8 565.8,710.9 569.2,712.0 C572.6,713.1 574.8,712.4 577.6,713.7 C580.4,715.0 583.3,717.5 586.1,719.6 C588.9,721.7 591.7,724.6 594.5,726.4 C597.3,728.2 600.6,729.9 603.0,730.3 C605.4,730.7 605.3,731.1 609.0,729.0 C612.7,726.9 620.1,721.0 625.0,717.9 C629.9,714.8 634.5,711.5 638.5,710.3 C642.5,709.1 645.0,709.6 648.8,710.6 C652.6,711.6 657.7,714.2 661.4,716.0 C665.1,717.8 667.1,720.5 670.8,721.5 C674.5,722.5 679.2,723.1 683.4,722.3 C687.6,721.5 691.2,718.8 695.9,716.8 C700.6,714.8 706.9,712.4 711.6,710.6 C716.3,708.9 720.5,707.1 724.2,706.3 C727.9,705.5 729.9,705.6 733.6,705.8 C737.3,706.0 744.1,707.1 746.2,707.4" fill="none" stroke="#000" stroke-width="1.35" stroke-linecap="round" stroke-linejoin="round"/>
<path d="M340.2,801.3 C342.0,802.8 347.1,807.4 351.2,810.6 C355.3,813.8 360.8,819.3 364.7,820.7 C368.6,822.1 370.9,821.8 374.8,819.0 C378.8,816.2 385.0,807.4 388.4,803.8 C391.8,800.1 393.0,797.4 395.1,797.1 C397.2,796.8 399.1,798.7 401.0,802.0 C402.9,805.3 405.0,812.6 406.8,817.1 C408.6,821.6 410.1,824.1 411.8,828.9 C413.5,833.7 415.2,842.4 416.9,845.8 C418.6,849.2 420.3,847.8 422.0,849.2 C423.7,850.6 425.4,853.2 427.1,854.3 C428.8,855.4 430.7,856.2 432.1,855.9 C433.5,855.6 434.1,856.5 435.5,852.6 C436.9,848.7 438.9,837.7 440.6,832.3 C442.3,826.9 444.0,823.8 445.7,820.4 C447.4,817.0 449.1,815.9 450.7,812.0 C452.3,808.1 454.1,801.5 455.5,797.3 C456.9,793.1 457.7,788.3 459.3,786.7 C460.9,785.1 463.3,788.1 465.1,787.6 C466.9,787.1 468.6,786.0 470.0,783.8 C471.4,781.5 472.2,776.9 473.8,774.1 C475.4,771.4 477.5,767.9 479.6,767.3 C481.7,766.6 483.8,768.6 486.4,770.2 C489.0,771.8 492.5,776.5 495.1,777.0 C497.7,777.5 499.7,774.6 501.8,773.1 C503.9,771.6 505.5,768.6 507.6,768.3 C509.7,768.0 512.5,771.5 514.4,771.2 C516.3,770.9 516.8,766.2 519.2,766.4 C521.6,766.6 525.7,770.9 528.9,772.2 C532.1,773.5 535.7,772.7 538.6,774.1 C541.5,775.5 543.7,779.3 546.3,780.9 C548.9,782.5 551.9,783.7 554.0,783.8 C556.1,783.9 556.9,781.7 558.8,781.4 C560.7,781.1 563.5,782.8 565.6,781.8 C567.7,780.8 570.1,777.5 571.4,775.1 C572.7,772.7 571.4,769.7 573.3,767.3 C575.2,764.9 579.8,762.2 583.0,760.6 C586.2,759.0 589.5,759.2 592.7,757.7 C595.9,756.2 598.3,752.5 602.3,751.9 C606.3,751.3 612.2,753.2 616.7,754.0 C621.2,754.8 624.2,754.9 629.0,756.4 C633.8,757.9 640.6,762.6 645.4,763.0 C650.2,763.4 653.3,758.6 657.8,758.9 C662.2,759.2 667.1,763.3 672.1,764.6 C677.1,765.9 682.7,768.1 687.5,766.7 C692.3,765.3 695.6,759.5 700.9,756.4 C706.2,753.3 713.9,749.1 719.4,748.2 C724.9,747.4 729.1,750.1 733.7,751.3 C738.3,752.5 744.9,754.7 747.1,755.4" fill="none" stroke="#000" stroke-width="1.35" stroke-linecap="round" stroke-linejoin="round"/>
<path d="M330.9,814.0 C332.6,815.1 337.6,817.9 341.0,820.7 C344.4,823.5 347.8,827.2 351.2,830.9 C354.6,834.6 357.9,840.5 361.3,842.7 C364.7,845.0 367.6,845.8 371.5,844.4 C375.4,843.0 381.1,838.2 385.0,834.3 C388.9,830.3 392.0,823.0 395.1,820.7 C398.2,818.4 401.1,819.8 403.6,820.7 C406.1,821.6 408.1,823.8 410.0,826.0 C411.9,828.2 413.5,832.8 415.2,834.0 C416.9,835.2 418.3,834.8 420.3,833.1 C422.3,831.4 424.6,827.2 427.1,823.8 C429.6,820.4 433.2,815.0 435.5,812.8 C437.8,810.5 438.9,810.8 440.6,810.3 C442.3,809.8 444.0,809.8 445.8,809.9 C447.6,810.0 449.4,812.2 451.6,810.8 C453.9,809.3 456.7,804.7 459.3,801.2 C461.9,797.7 464.4,792.7 467.1,789.6 C469.8,786.5 472.8,783.1 475.7,782.8 C478.6,782.5 481.8,786.1 484.4,787.6 C487.0,789.1 488.8,789.9 491.2,791.5 C493.6,793.1 496.5,796.8 498.9,797.3 C501.3,797.8 503.4,795.4 505.7,794.4 C508.0,793.4 509.9,793.3 512.5,791.5 C515.1,789.7 518.2,784.6 521.2,783.8 C524.2,783.0 526.9,785.9 530.8,786.7 C534.6,787.5 539.5,788.6 544.3,788.6 C549.1,788.6 555.6,787.8 559.8,786.7 C564.0,785.6 566.3,783.6 569.5,781.8 C572.7,780.0 575.6,776.1 579.1,776.0 C582.6,775.9 586.2,780.5 590.7,780.9 C595.2,781.3 599.7,779.1 606.4,778.6 C613.1,778.1 624.2,777.8 631.1,778.0 C638.0,778.2 642.4,780.4 647.5,780.0 C652.6,779.6 656.4,777.0 661.9,775.9 C667.4,774.8 673.5,773.5 680.3,773.5 C687.1,773.5 694.7,775.3 702.9,775.9 C711.1,776.5 722.2,776.5 729.6,777.0 C737.0,777.5 744.2,778.7 747.1,779.0" fill="none" stroke="#000" stroke-width="1.35" stroke-linecap="round" stroke-linejoin="round"/>
<path d="M319.0,821.6 C321.0,823.1 327.2,827.4 330.9,830.9 C334.6,834.4 337.8,838.2 341.0,842.7 C344.2,847.2 347.4,853.5 350.0,858.0 C352.6,862.5 354.3,868.9 356.5,870.0 C358.7,871.1 360.5,866.0 363.0,864.8 C365.5,863.6 368.8,864.8 371.7,862.6 C374.6,860.4 377.5,857.1 380.4,851.7 C383.3,846.3 385.8,835.1 389.1,830.0 C392.4,824.9 398.2,822.8 400.0,821.3" fill="none" stroke="#000" stroke-width="1.3" stroke-linecap="round" stroke-linejoin="round"/>
<path d="M444.8,821.3 C446.4,822.8 450.9,827.6 454.1,830.6 C457.4,833.6 461.5,836.8 464.3,839.0 C467.1,841.2 468.8,843.2 471.0,844.1 C473.2,845.0 475.6,843.2 477.8,844.1 C480.1,845.0 482.2,847.5 484.5,849.2 C486.8,850.9 489.6,852.3 491.3,854.3 C493.0,856.3 493.0,859.3 494.7,861.0 C496.4,862.7 499.0,863.5 501.5,864.4 C504.0,865.2 507.1,866.8 509.9,866.1 C512.7,865.4 515.3,860.9 518.4,860.0 C521.5,859.1 525.4,859.6 528.5,861.0 C531.6,862.4 534.3,868.3 536.8,868.6 C539.3,868.9 541.2,865.9 543.5,862.7 C545.8,859.5 548.6,852.9 550.3,849.2 C552.0,845.5 551.7,843.5 553.7,840.7 C555.7,837.9 559.6,835.1 562.1,832.3 C564.6,829.5 566.4,825.3 568.9,823.8 C571.4,822.2 574.2,824.1 577.3,823.0 C580.4,821.9 584.1,818.4 587.5,817.1 C590.9,815.8 594.2,814.9 597.6,815.0 C601.0,815.1 604.4,818.1 607.8,817.9 C611.2,817.7 614.5,813.9 617.9,813.7 C621.3,813.5 624.7,817.3 628.1,816.7 C631.5,816.1 634.3,811.8 638.2,810.3 C642.1,808.8 648.3,808.9 651.7,807.8 C655.1,806.7 655.5,804.9 658.5,803.5 C661.5,802.1 666.0,800.1 670.0,799.3 C674.0,798.5 677.6,800.2 682.4,798.5 C687.2,796.8 693.0,791.2 698.8,789.3 C704.6,787.3 709.2,787.3 717.3,786.8 C725.3,786.3 742.1,786.3 747.1,786.2" fill="none" stroke="#000" stroke-width="1.35" stroke-linecap="round" stroke-linejoin="round"/>
<path d="M328.3,842.0 C329.8,842.9 334.5,845.4 337.0,847.4 C339.5,849.4 341.3,850.6 343.5,853.9 C345.7,857.2 347.8,863.0 350.0,867.0 C352.2,871.0 354.5,875.1 356.5,877.8 C358.5,880.5 359.8,882.8 362.0,883.3 C364.2,883.8 366.9,883.1 369.6,881.1 C372.3,879.1 375.4,876.4 378.3,871.3 C381.2,866.2 384.9,853.2 386.9,850.7 C388.9,848.2 388.7,852.3 390.2,856.1 C391.7,859.9 393.7,871.3 395.7,873.5 C397.7,875.7 400.1,871.5 402.2,869.1 C404.3,866.7 406.1,861.6 408.5,859.3 C410.9,857.0 414.1,856.9 416.9,855.1 C419.7,853.3 422.6,849.6 425.4,848.3 C428.2,847.0 431.0,847.4 433.8,847.5 C436.6,847.6 439.5,848.9 442.3,849.2 C445.1,849.5 447.9,849.8 450.7,849.2 C453.5,848.6 456.4,845.5 459.2,845.8 C462.0,846.1 464.8,850.0 467.6,850.9 C470.4,851.8 473.3,851.5 476.1,850.9 C478.9,850.3 481.4,847.8 484.5,847.5 C487.6,847.2 490.8,848.5 494.7,849.2 C498.6,849.9 504.2,852.6 508.2,851.7 C512.1,850.9 515.6,845.7 518.4,844.1 C521.2,842.5 522.3,842.4 525.1,842.4 C527.9,842.4 532.8,843.7 535.3,844.1 C537.8,844.5 537.9,844.7 540.1,845.0 C542.3,845.3 545.8,846.2 548.6,845.8 C551.4,845.4 554.0,842.7 557.1,842.4 C560.2,842.1 564.1,844.2 567.2,844.1 C570.3,844.0 572.9,843.2 575.7,841.6 C578.5,840.0 580.5,836.5 584.1,834.8 C587.8,833.1 593.7,831.6 597.6,831.4 C601.5,831.2 604.4,832.6 607.8,833.6 C611.2,834.6 614.5,836.8 617.9,837.3 C621.3,837.8 625.0,836.6 628.1,836.5 C631.2,836.4 633.7,837.6 636.5,836.5 C639.3,835.4 642.2,831.0 645.0,829.7 C647.8,828.4 650.3,829.3 653.4,828.6 C656.5,827.9 660.8,826.6 663.6,825.5 C666.4,824.4 667.2,822.5 670.0,821.8 C672.8,821.1 675.8,821.2 680.3,821.1 C684.8,821.0 691.3,821.6 696.8,821.1 C702.3,820.6 707.1,819.5 713.2,818.0 C719.4,816.5 728.1,813.3 733.7,811.9 C739.4,810.5 744.9,810.1 747.1,809.8" fill="none" stroke="#000" stroke-width="1.4" stroke-linecap="round" stroke-linejoin="round" stroke-dasharray="20,2.5,1.2,2.5"/>
<path d="M354.3,836.5 C355.8,838.0 360.1,844.1 363.0,845.2 C365.9,846.3 368.8,844.8 371.7,843.0 C374.6,841.2 378.0,837.1 380.4,834.3 C382.8,831.5 385.1,827.4 386.0,826.0" fill="none" stroke="#000" stroke-width="1.2" stroke-linecap="round" stroke-linejoin="round"/>
<path d="M307.2,827.5 C308.3,828.9 311.8,833.9 314.0,836.0 C316.2,838.1 319.6,839.5 320.7,840.2" fill="none" stroke="#000" stroke-width="1.2" stroke-linecap="round" stroke-linejoin="round"/>
<path d="M328.3,842.7 C329.9,843.8 334.9,847.2 337.6,849.5 C340.3,851.8 342.1,853.4 344.4,856.2 C346.7,859.0 350.1,864.7 351.2,866.4" fill="none" stroke="#000" stroke-width="1.2" stroke-linecap="round" stroke-linejoin="round"/>
<path d="M418.6,840.7 C419.7,840.1 423.4,838.3 425.4,837.3 C427.4,836.3 429.0,836.5 430.4,834.8 C431.8,833.1 432.4,830.6 433.8,827.2 C435.2,823.8 437.2,815.5 438.9,814.5 C440.6,813.5 442.0,820.0 444.0,821.3 C446.0,822.6 448.4,820.3 450.7,822.1 C452.9,823.9 455.0,829.5 457.5,832.3 C460.0,835.1 463.4,837.0 465.9,839.0 C468.4,841.0 470.4,843.0 472.7,844.1 C475.0,845.2 477.2,845.2 479.5,845.8 C481.8,846.4 483.7,846.9 486.2,847.5 C488.7,848.1 493.3,848.9 494.7,849.2" fill="none" stroke="#000" stroke-width="1.2" stroke-linecap="round" stroke-linejoin="round"/>
<path d="M265.6,846.5 C267.4,849.2 272.9,857.7 276.1,862.6 C279.3,867.5 281.9,871.0 284.8,875.7 C287.7,880.4 291.0,886.2 293.5,890.9 C296.0,895.6 298.2,903.9 300.0,903.9 C301.8,903.9 302.9,896.7 304.3,890.9 C305.8,885.1 307.1,876.4 308.7,869.1 C310.3,861.9 312.3,851.6 314.1,847.4 C315.9,843.2 318.0,845.2 319.6,844.1 C321.2,843.0 322.3,844.8 323.9,840.9 C325.5,837.0 327.5,827.5 329.2,820.7 C330.9,814.0 332.6,807.2 334.3,800.4 C336.0,793.6 338.2,783.6 339.3,780.1 C340.4,776.6 340.1,778.7 341.0,779.3 C341.9,779.9 343.3,780.0 344.4,783.5 C345.5,787.0 346.7,794.2 347.8,800.4 C348.9,806.6 350.1,813.9 351.2,820.7 C352.3,827.5 353.4,833.7 354.5,841.0 C355.6,848.3 356.8,858.2 357.9,864.7 C359.0,871.2 359.3,874.5 360.9,880.0 C362.5,885.5 365.2,892.0 367.4,897.4 C369.6,902.8 371.7,907.9 373.9,912.6 C376.1,917.3 378.2,924.4 380.4,925.7 C382.6,927.0 384.1,922.2 387.0,920.2 C389.9,918.2 394.6,915.3 397.8,913.7 C401.1,912.1 404.0,912.8 406.5,910.4 C409.0,908.0 410.9,903.0 412.9,899.6 C414.9,896.2 416.4,892.5 418.6,889.9 C420.9,887.3 423.5,887.3 426.4,884.1 C429.3,880.9 433.1,874.1 436.0,870.6 C438.9,867.1 440.9,865.1 443.8,862.9 C446.7,860.6 449.9,857.8 453.4,857.1 C456.9,856.5 461.1,858.4 465.0,859.0 C468.9,859.6 473.1,860.9 476.6,860.9 C480.2,860.9 483.1,858.8 486.3,859.0 C489.5,859.2 492.4,860.8 495.9,861.9 C499.4,863.0 504.3,867.2 507.5,865.7 C510.7,864.2 512.7,856.9 515.3,853.2 C517.9,849.5 520.1,845.0 523.0,843.5 C525.9,842.0 529.9,843.2 532.7,844.5 C535.5,845.8 537.4,848.7 540.0,851.3 C542.6,853.9 546.0,860.3 548.6,860.2 C551.2,860.1 552.9,854.4 555.4,850.9 C557.9,847.4 561.0,841.7 563.8,839.0 C566.6,836.3 570.0,835.2 572.3,834.8 C574.5,834.4 575.9,835.5 577.3,836.5 C578.7,837.5 578.7,839.4 580.7,840.7 C582.7,842.0 586.4,843.1 589.2,844.1 C592.0,845.1 594.8,845.8 597.6,846.6 C600.4,847.4 603.3,849.2 606.1,848.8 C608.9,848.4 611.7,846.4 614.5,844.1 C617.3,841.8 620.2,837.5 623.0,834.8 C625.8,832.1 628.7,829.7 631.5,828.0 C634.3,826.3 637.1,825.1 639.9,824.7 C642.7,824.3 645.9,824.8 648.4,825.5 C650.9,826.2 652.3,828.1 655.1,828.9 C657.9,829.7 660.9,830.0 665.0,830.3 C669.1,830.6 677.5,830.5 680.0,830.5" fill="none" stroke="#000" stroke-width="2.3" stroke-linecap="round" stroke-linejoin="round"/>
<path d="M741.0,824.8 L747.0,823.5" fill="none" stroke="#000" stroke-width="2.0" stroke-linecap="round" stroke-linejoin="round"/>
<g transform="translate(351.8,639.4) rotate(1.0)"><text x="-5.01" y="6.35" font-size="17.9" font-family="Liberation Sans, sans-serif" fill="#111" transform="rotate(18,0,0) scale(1.0,1)">0</text><text x="10.24" y="6.35" font-size="17.9" font-family="Liberation Sans, sans-serif" fill="#111" transform="scale(1.22,1)">.</text><text x="19.60" y="6.35" font-size="17.9" font-family="Liberation Sans, sans-serif" fill="#111" transform="scale(1.22,1)">1</text><text x="31.63" y="6.35" font-size="17.9" font-family="Liberation Sans, sans-serif" fill="#111" transform="scale(1.22,1)">0</text></g>
<g transform="translate(346.2,652.0) rotate(4.0)"><text x="-5.01" y="6.35" font-size="17.9" font-family="Liberation Sans, sans-serif" fill="#111" transform="rotate(16,0,0) scale(1.0,1)">0</text><text x="10.24" y="6.35" font-size="17.9" font-family="Liberation Sans, sans-serif" fill="#111" transform="scale(1.22,1)">.</text><text x="20.03" y="6.35" font-size="17.9" font-family="Liberation Sans, sans-serif" fill="#111" transform="scale(1.22,1)">2</text><text x="31.55" y="6.35" font-size="17.9" font-family="Liberation Sans, sans-serif" fill="#111" transform="scale(1.22,1)">0</text></g>
<g transform="translate(342.0,664.6) rotate(8.0)"><text x="-5.01" y="6.35" font-size="17.9" font-family="Liberation Sans, sans-serif" fill="#111" transform="rotate(14,0,0) scale(1.0,1)">0</text><text x="9.59" y="6.35" font-size="17.9" font-family="Liberation Sans, sans-serif" fill="#111" transform="scale(1.22,1)">.</text><text x="19.79" y="6.35" font-size="17.9" font-family="Liberation Sans, sans-serif" fill="#111" transform="scale(1.22,1)">2</text><text x="31.43" y="6.35" font-size="17.9" font-family="Liberation Sans, sans-serif" fill="#111" transform="scale(1.22,1)">2</text></g>
<g transform="translate(337.8,679.0) rotate(14.0)"><text x="-5.01" y="6.35" font-size="17.9" font-family="Liberation Sans, sans-serif" fill="#111" transform="rotate(12,0,0) scale(1.0,1)">0</text><text x="9.59" y="6.35" font-size="17.9" font-family="Liberation Sans, sans-serif" fill="#111" transform="scale(1.22,1)">.</text><text x="20.03" y="6.35" font-size="17.9" font-family="Liberation Sans, sans-serif" fill="#111" transform="scale(1.22,1)">2</text><text x="31.35" y="6.35" font-size="17.9" font-family="Liberation Sans, sans-serif" fill="#111" transform="scale(1.22,1)">4</text></g>
<g transform="translate(333.5,697.9) rotate(22.0)"><text x="-5.01" y="6.35" font-size="17.9" font-family="Liberation Sans, sans-serif" fill="#111" transform="rotate(10,0,0) scale(1.0,1)">0</text><text x="9.59" y="6.35" font-size="17.9" font-family="Liberation Sans, sans-serif" fill="#111" transform="scale(1.22,1)">.</text><text x="20.03" y="6.35" font-size="17.9" font-family="Liberation Sans, sans-serif" fill="#111" transform="scale(1.22,1)">2</text><text x="31.42" y="6.35" font-size="17.9" font-family="Liberation Sans, sans-serif" fill="#111" transform="scale(1.22,1)">6</text></g>
<g transform="translate(327.4,717.4) rotate(38.0)"><text x="-5.01" y="6.35" font-size="17.9" font-family="Liberation Sans, sans-serif" fill="#111" transform="scale(1.22,1)">0</text><text x="9.59" y="6.35" font-size="17.9" font-family="Liberation Sans, sans-serif" fill="#111" transform="scale(1.22,1)">.</text><text x="20.20" y="6.35" font-size="17.9" font-family="Liberation Sans, sans-serif" fill="#111" transform="scale(1.22,1)">2</text><text x="31.96" y="6.35" font-size="17.9" font-family="Liberation Sans, sans-serif" fill="#111" transform="scale(1.22,1)">8</text></g>
<g transform="translate(319.5,733.6) rotate(43.0)"><text x="-5.01" y="6.35" font-size="17.9" font-family="Liberation Sans, sans-serif" fill="#111" transform="scale(1.22,1)">0</text><text x="9.59" y="6.35" font-size="17.9" font-family="Liberation Sans, sans-serif" fill="#111" transform="scale(1.22,1)">.</text><text x="20.20" y="6.35" font-size="17.9" font-family="Liberation Sans, sans-serif" fill="#111" transform="scale(1.22,1)">3</text><text x="31.96" y="6.35" font-size="17.9" font-family="Liberation Sans, sans-serif" fill="#111" transform="scale(1.22,1)">0</text></g>
<g transform="translate(311.1,745.1) rotate(45.0)"><text x="-5.01" y="6.35" font-size="17.9" font-family="Liberation Sans, sans-serif" fill="#111" transform="scale(1.22,1)">0</text><text x="9.59" y="6.35" font-size="17.9" font-family="Liberation Sans, sans-serif" fill="#111" transform="scale(1.22,1)">.</text><text x="20.20" y="6.35" font-size="17.9" font-family="Liberation Sans, sans-serif" fill="#111" transform="scale(1.22,1)">3</text><text x="32.00" y="6.35" font-size="17.9" font-family="Liberation Sans, sans-serif" fill="#111" transform="scale(1.22,1)">2</text></g>
<g transform="translate(302.0,756.0) rotate(46.0)"><text x="-5.01" y="6.35" font-size="17.9" font-family="Liberation Sans, sans-serif" fill="#111" transform="scale(1.22,1)">0</text><text x="9.59" y="6.35" font-size="17.9" font-family="Liberation Sans, sans-serif" fill="#111" transform="scale(1.22,1)">.</text><text x="20.20" y="6.35" font-size="17.9" font-family="Liberation Sans, sans-serif" fill="#111" transform="scale(1.22,1)">3</text><text x="32.09" y="6.35" font-size="17.9" font-family="Liberation Sans, sans-serif" fill="#111" transform="scale(1.22,1)">4</text></g>
<g transform="translate(293.0,765.0) rotate(47.0)"><text x="-5.01" y="6.35" font-size="17.9" font-family="Liberation Sans, sans-serif" fill="#111" transform="scale(1.22,1)">0</text><text x="9.59" y="6.35" font-size="17.9" font-family="Liberation Sans, sans-serif" fill="#111" transform="scale(1.22,1)">.</text><text x="20.20" y="6.35" font-size="17.9" font-family="Liberation Sans, sans-serif" fill="#111" transform="scale(1.22,1)">3</text><text x="31.91" y="6.35" font-size="17.9" font-family="Liberation Sans, sans-serif" fill="#111" transform="scale(1.22,1)">6</text></g>
<g transform="translate(284.5,771.1) rotate(48.0)"><text x="-5.01" y="6.35" font-size="17.9" font-family="Liberation Sans, sans-serif" fill="#111" transform="scale(1.22,1)">0</text><text x="9.59" y="6.35" font-size="17.9" font-family="Liberation Sans, sans-serif" fill="#111" transform="scale(1.22,1)">.</text><text x="20.20" y="6.35" font-size="17.9" font-family="Liberation Sans, sans-serif" fill="#111" transform="scale(1.22,1)">3</text><text x="31.96" y="6.35" font-size="17.9" font-family="Liberation Sans, sans-serif" fill="#111" transform="scale(1.22,1)">8</text></g>
<g transform="translate(274.8,777.7) rotate(48.0)"><text x="-5.01" y="6.35" font-size="17.9" font-family="Liberation Sans, sans-serif" fill="#111" transform="scale(1.22,1)">0</text><text x="9.59" y="6.35" font-size="17.9" font-family="Liberation Sans, sans-serif" fill="#111" transform="scale(1.22,1)">.</text><text x="20.29" y="6.35" font-size="17.9" font-family="Liberation Sans, sans-serif" fill="#111" transform="scale(1.22,1)">4</text><text x="31.96" y="6.35" font-size="17.9" font-family="Liberation Sans, sans-serif" fill="#111" transform="scale(1.22,1)">0</text></g>
<g transform="translate(273.0,778.5) rotate(50.0)"><text x="-5.01" y="6.35" font-size="17.9" font-family="Liberation Sans, sans-serif" fill="#111" transform="scale(1.22,1)">0</text><text x="9.59" y="6.35" font-size="17.9" font-family="Liberation Sans, sans-serif" fill="#111" transform="scale(1.22,1)">.</text><text x="20.29" y="6.35" font-size="17.9" font-family="Liberation Sans, sans-serif" fill="#111" transform="scale(1.22,1)">4</text><text x="32.00" y="6.35" font-size="17.9" font-family="Liberation Sans, sans-serif" fill="#111" transform="scale(1.22,1)">2</text></g>
<g transform="translate(249.5,793.2) rotate(71.0)"><text x="-5.01" y="6.35" font-size="17.9" font-family="Liberation Sans, sans-serif" fill="#111" transform="scale(1.22,1)">0</text><text x="11.06" y="6.35" font-size="17.9" font-family="Liberation Sans, sans-serif" fill="#111" transform="scale(1.22,1)">.</text><text x="20.03" y="6.35" font-size="17.9" font-family="Liberation Sans, sans-serif" fill="#111" transform="scale(1.22,1)">5</text><text x="31.87" y="6.35" font-size="17.9" font-family="Liberation Sans, sans-serif" fill="#111" transform="scale(1.22,1)">0</text></g>
<g transform="translate(688.2,829.1) rotate(0.0)"><text x="-5.01" y="6.35" font-size="17.9" font-family="Liberation Sans, sans-serif" fill="#111" transform="scale(1.22,1)">0</text><text x="9.59" y="6.35" font-size="17.9" font-family="Liberation Sans, sans-serif" fill="#111" transform="scale(1.22,1)">.</text><text x="20.20" y="6.35" font-size="17.9" font-family="Liberation Sans, sans-serif" fill="#111" transform="scale(1.22,1)">5</text><text x="31.96" y="6.35" font-size="17.9" font-family="Liberation Sans, sans-serif" fill="#111" transform="scale(1.22,1)">0</text></g></svg></body></html>
